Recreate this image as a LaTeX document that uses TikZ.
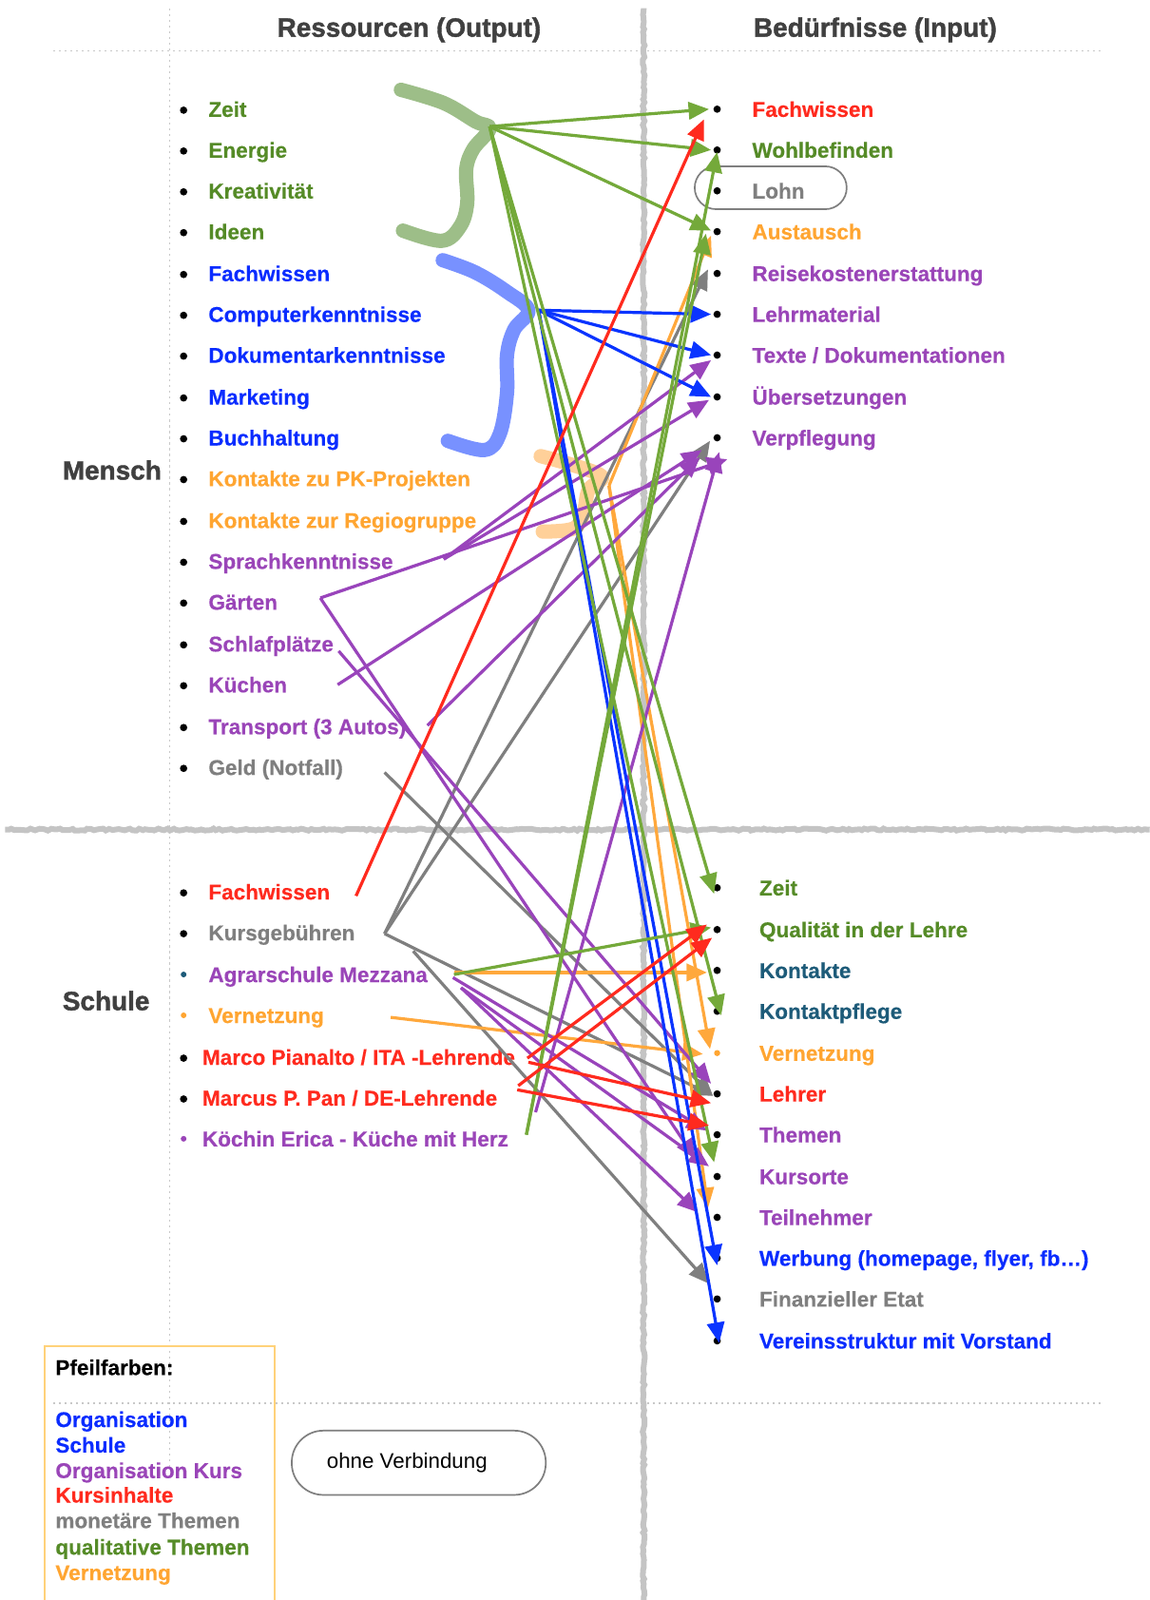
\documentclass[tikz,border=0pt]{standalone}
\usepackage{fontspec}
\setmainfont{Liberation Sans}[BoldFeatures={FakeBold=0.3}]
\newfontfamily\heavy{Liberation Sans}[BoldFeatures={FakeBold=1.4}]
\usetikzlibrary{arrows.meta,decorations.pathmorphing}
\definecolor{tgreen}{HTML}{558B27}
\definecolor{tblue}{HTML}{0A2CFF}
\definecolor{torange}{HTML}{FFA531}
\definecolor{tpurple}{HTML}{9A45B8}
\definecolor{tgray}{HTML}{7F7F7F}
\definecolor{tred}{HTML}{FF2A1E}
\definecolor{tteal}{HTML}{1D5B79}
\definecolor{hdgray}{HTML}{404040}
\definecolor{agreen}{HTML}{74A93A}
\definecolor{ablue}{HTML}{0A34FF}
\definecolor{aorange}{HTML}{FFA83C}
\definecolor{apurple}{HTML}{9944BB}
\definecolor{agray}{HTML}{7F7F7F}
\definecolor{ared}{HTML}{FF2A1E}
\definecolor{dotgray}{HTML}{C8C8C8}
\definecolor{roughgray}{HTML}{C4C4C4}
\definecolor{bgreen}{HTML}{93B77C}
\definecolor{bblue}{HTML}{6A86FF}
\definecolor{borange}{HTML}{FFCB8E}
\definecolor{legbord}{HTML}{FFD27A}
\tikzset{
  lt/.style={anchor=base west, inner sep=0pt, font=\bfseries\fontsize{10.5}{12}\selectfont},
  hd/.style={anchor=base, inner sep=0pt, font=\heavy\bfseries\fontsize{13}{15}\selectfont, text=hdgray},
  arw/.style={line width=1.5pt, -{Triangle[length=10pt,width=8.5pt]}},
  dots/.style={draw=dotgray, line width=0.6pt, dash pattern=on 1pt off 1.8pt},
  rough/.style={draw=roughgray, line width=2.8pt, decorate, decoration={random steps, segment length=1.5pt, amplitude=0.5pt}},
  brush/.style={line width=7pt, line cap=round, line join=round, opacity=0.9},
  pill/.style={draw=tgray, line width=0.8pt},
}
\begin{document}
\begin{tikzpicture}[x=0.5pt,y=-0.5pt]
\useasboundingbox (0,0) rectangle (1127,1568);
\fill[white] (0,0) rectangle (1127,1568);

% grid lines
\draw[dots] (52,50) -- (1080,50);
\draw[dots] (52,1375) -- (1080,1375);
\draw[dots] (166,8) -- (166,1440);
\draw[rough] (631,8) -- (631,1568);
\draw[rough] (5,813) -- (1127,813);

% headers
\node[hd] (hRes) at (401,36) {Ressourcen (Output)};
\node[hd] (hBed) at (858,36) {Bedürfnisse (Input)};
\node[hd, anchor=base west] (hMensch) at (61,470) {Mensch};
\node[hd, anchor=base west] (hSchule) at (61,990) {Schule};

% brush strokes
\draw[brush, bgreen] plot[smooth, tension=0.6] coordinates {(393,88) (435,101) (466,119) (480,126) (464,146) (457,166) (458,199) (451,222) (433,236) (395,226)};
\draw[brush, bblue] plot[smooth, tension=0.6] coordinates {(434,255) (466,267) (497,286) (518,304) (504,323) (497,348) (497,385) (490,425) (475,441) (439,432)};
\draw[brush, borange] plot[smooth, tension=0.6] coordinates {(530,447) (559,455) (590,467) (577,480) (572,503) (562,518) (532,521)};

% left list, Mensch
\foreach \y in {107,147,187,227,268,308,348,389,429,469,510,550,590,631,671,712,752} {\fill (180,\y+1) circle (1.8pt);}
\node[lt,text=tgreen] (mZeit) at (204,114.5) {Zeit};
\node[lt,text=tgreen] (mEnergie) at (204,154.5) {Energie};
\node[lt,text=tgreen] (mKreat) at (204,194.5) {Kreativität};
\node[lt,text=tgreen] (mIdeen) at (204,234.5) {Ideen};
\node[lt,text=tblue] (mFach) at (204,275.5) {Fachwissen};
\node[lt,text=tblue] (mComp) at (204,315.5) {Computerkenntnisse};
\node[lt,text=tblue] (mDok) at (204,355.5) {Dokumentarkenntnisse};
\node[lt,text=tblue] (mMark) at (204,396.5) {Marketing};
\node[lt,text=tblue] (mBuch) at (204,436.5) {Buchhaltung};
\node[lt,text=torange] (mPK) at (204,476.5) {Kontakte zu PK-Projekten};
\node[lt,text=torange] (mRegio) at (204,517.5) {Kontakte zur Regiogruppe};
\node[lt,text=tpurple] (mSprach) at (204,557.5) {Sprachkenntnisse};
\node[lt,text=tpurple] (mGaert) at (204,597.5) {Gärten};
\node[lt,text=tpurple] (mSchlaf) at (204,638.5) {Schlafplätze};
\node[lt,text=tpurple] (mKuech) at (204,678.5) {Küchen};
\node[lt,text=tpurple] (mTrans) at (204,719.5) {Transport (3 Autos)};
\node[lt,text=tgray] (mGeld) at (204,759.5) {Geld (Notfall)};

% left list, Schule
\foreach \y in {874,914,1036,1076} {\fill (180,\y+1) circle (1.8pt);}
\fill[tteal] (180,955) circle (1.4pt);
\fill[torange] (180,995) circle (1.4pt);
\fill[tpurple] (180,1116) circle (1.4pt);
\node[lt,text=tred] (sFach) at (204,881.5) {Fachwissen};
\node[lt,text=tgray] (sKurs) at (204,921.5) {Kursgebühren};
\node[lt,text=tpurple] (sAgrar) at (204,962.5) {Agrarschule Mezzana};
\node[lt,text=torange] (sVern) at (204,1002.5) {Vernetzung};
\node[lt,text=tred] (sMarco) at (198,1043.5) {Marco Pianalto / ITA -Lehrende};
\node[lt,text=tred] (sMarcus) at (198,1083.5) {Marcus P. Pan / DE-Lehrende};
\node[lt,text=tpurple] (sKoech) at (198,1123.5) {Köchin Erica - Küche mit Herz};

% right list, Mensch
\foreach \y in {107,147,187,227,268,308,348,389,429} {\fill (703,\y) circle (1.8pt);}
\node[lt,text=tred] (rFach) at (737,114.5) {Fachwissen};
\node[lt,text=tgreen] (rWohl) at (737,154.5) {Wohlbefinden};
\node[lt,text=tgray] (rLohn) at (737,194.5) {Lohn};
\node[lt,text=torange] (rAust) at (737,234.5) {Austausch};
\node[lt,text=tpurple] (rReise) at (737,275.5) {Reisekostenerstattung};
\node[lt,text=tpurple] (rLehrm) at (737,315.5) {Lehrmaterial};
\node[lt,text=tpurple] (rTexte) at (737,355.5) {Texte / Dokumentationen};
\node[lt,text=tpurple] (rUeber) at (737,396.5) {Übersetzungen};
\node[lt,text=tpurple] (rVerpf) at (737,436.5) {Verpflegung};
\node[pill, rounded corners=10.5pt, minimum width=74.5pt, minimum height=21pt, inner sep=0pt] (lohnbox) at (755.5,184) {};

% right list, Schule
\foreach \y in {870,911,951,991,1072,1112,1153,1193,1233,1273,1314} {\fill (703,\y) circle (1.8pt);}
\fill[torange] (703,1032) circle (1.5pt);
\node[lt,text=tgreen] (rZeit) at (744,877.5) {Zeit};
\node[lt,text=tgreen] (rQual) at (744,918.5) {Qualität in der Lehre};
\node[lt,text=tteal] (rKont) at (744,958.5) {Kontakte};
\node[lt,text=tteal] (rKpfl) at (744,998.5) {Kontaktpflege};
\node[lt,text=torange] (rVern) at (744,1039.5) {Vernetzung};
\node[lt,text=tred] (rLehrer) at (744,1079.5) {Lehrer};
\node[lt,text=tpurple] (rThemen) at (744,1119.5) {Themen};
\node[lt,text=tpurple] (rKursorte) at (744,1160.5) {Kursorte};
\node[lt,text=tpurple] (rTeiln) at (744,1200.5) {Teilnehmer};
\node[lt,text=tblue] (rWerb) at (744,1240.5) {Werbung (homepage, flyer, fb…)};
\node[lt,text=tgray] (rEtat) at (744,1280.5) {Finanzieller Etat};
\node[lt,text=tblue] (rVerein) at (744,1321.5) {Vereinsstruktur mit Vorstand};

% legend
\draw[legbord, line width=0.9pt] (44,1590) -- (44,1319) -- (269,1319) -- (269,1590);
\node[lt] (lgTitle) at (54,1347.5) {Pfeilfarben:};
\node[lt,text=tblue] (lg1) at (54,1398.5) {Organisation};
\node[lt,text=tblue] (lg2) at (54,1423.5) {Schule};
\node[lt,text=tpurple] (lg3) at (54,1448.5) {Organisation Kurs};
\node[lt,text=tred] (lg4) at (54,1472.5) {Kursinhalte};
\node[lt,text=tgray] (lg5) at (54,1497.5) {monetäre Themen};
\node[lt,text=tgreen] (lg6) at (54,1523.5) {qualitative Themen};
\node[lt,text=torange] (lg7) at (54,1548.5) {Vernetzung};
\node[pill, rounded corners=15.5pt, minimum width=124.5pt, minimum height=31.5pt, inner sep=0pt] (ovbox) at (410.5,1433.5) {};
\node[anchor=base west, inner sep=0pt, font=\fontsize{10.4}{12}\selectfont] (ovtext) at (320,1438.5) {ohne Verbindung};

% connector end points
\coordinate (hubG) at (480,124);
\coordinate (hubB) at (528,304);
\coordinate (hubO) at (597,476);
\coordinate (oSprach) at (435,548);
\coordinate (oGaert) at (314,586);
\coordinate (oSchlaf) at (332,638);
\coordinate (oKuech) at (331,671);
\coordinate (oTrans) at (419,711);
\coordinate (oGeld) at (377,757);
\coordinate (oSFach) at (349,878);
\coordinate (oKurs) at (377,915);
\coordinate (oKursB) at (405,932);
\coordinate (oAgrG) at (445,955);
\coordinate (oAgrO) at (445,953);
\coordinate (oAgrP1) at (444,958);
\coordinate (oAgrP2) at (452,968);
\coordinate (oVern) at (383,997);
\coordinate (oMarcoU) at (517,1037);
\coordinate (oMarcoD) at (518,1041);
\coordinate (oMarcusU) at (508,1064);
\coordinate (oMarcusD) at (507,1068);
\coordinate (oKoechG) at (516,1112);
\coordinate (oKoechP) at (525,1090);

\coordinate (tFach) at (690,117);
\coordinate (tFachG) at (695,107);
\coordinate (tWohl) at (697,147);
\coordinate (tWohlU) at (703,149);
\coordinate (tAust) at (697,226);
\coordinate (tAustU) at (692,229);
\coordinate (tAustO) at (697,231);
\coordinate (tReise) at (694,264);
\coordinate (tLehrm) at (697,308);
\coordinate (tTexteB) at (697,348);
\coordinate (tTexteP) at (697,353);
\coordinate (tUeberB) at (697,389);
\coordinate (tUeberP) at (695,392);
\coordinate (tVerpfY) at (696,432);
\coordinate (tVerpfK) at (688,441);
\coordinate (tVerpfT) at (686,448);
\coordinate (tVerpfG) at (713,450);
\coordinate (tVerpfR) at (705,443);
\coordinate (tZeit) at (700,876);
\coordinate (tQualG) at (697,909);
\coordinate (tQualR1) at (693,906);
\coordinate (tQualR2) at (698,919);
\coordinate (tKont) at (693,953);
\coordinate (tKpfl) at (707,995);
\coordinate (tVernV) at (696,1028);
\coordinate (tVernH) at (689,1033);
\coordinate (tLehrerP) at (697,1062);
\coordinate (tLehrerY) at (699,1074);
\coordinate (tLehrerR) at (697,1081);
\coordinate (tThemenR) at (695,1103);
\coordinate (tThemenP) at (693,1108);
\coordinate (tKursorteP1) at (682,1136);
\coordinate (tKursorteP2) at (695,1143);
\coordinate (tKursorteG) at (700,1139);
\coordinate (tTeilnP) at (684,1188);
\coordinate (tTeilnO) at (694,1184);
\coordinate (tWerb) at (703,1240);
\coordinate (tEtat) at (695,1258);
\coordinate (tVerein) at (705,1316);

% gray arrows
\draw[arw, agray] (oGeld) -- (tLehrerY);
\draw[arw, agray] (oKurs) -- (tReise);
\draw[arw, agray] (oKurs) -- (tVerpfY);
\draw[arw, agray] (oKurs) -- (tLehrerY);
\draw[arw, agray] (oKursB) -- (tEtat);

% orange arrows
\draw[arw, aorange] (oAgrO) -- (tKont);
\draw[arw, aorange] (oVern) -- (tVernH);
\draw[arw, aorange] (hubO) -- (tAustO);
\draw[arw, aorange] (hubO) -- (tVernV);
\draw[arw, aorange] (hubO) -- (tTeilnO);

% purple arrows
\draw[arw, apurple] (oSprach) -- (tTexteP);
\draw[arw, apurple] (oSprach) -- (tUeberP);
\draw[arw, apurple] (oGaert) -- (tVerpfG);
\draw[arw, apurple] (oGaert) -- (tKursorteP1);
\draw[arw, apurple] (oSchlaf) -- (tLehrerP);
\draw[arw, apurple] (oKuech) -- (tVerpfK);
\draw[arw, apurple] (oTrans) -- (tVerpfT);
\draw[arw, apurple] (oKoechP) -- (tVerpfR);
\draw[arw, apurple] (oAgrP1) -- (tThemenP);
\draw[arw, apurple] (oAgrP2) -- (tKursorteP2);
\draw[arw, apurple] (oAgrP2) -- (tTeilnP);

% blue arrows
\draw[arw, ablue] (hubB) -- (tLehrm);
\draw[arw, ablue] (hubB) -- (tTexteB);
\draw[arw, ablue] (hubB) -- (tUeberB);
\draw[arw, ablue] (hubB) -- (tWerb);
\draw[arw, ablue] (hubB) -- (tVerein);

% green arrows
\draw[arw, agreen] (hubG) -- (tFachG);
\draw[arw, agreen] (hubG) -- (tWohl);
\draw[arw, agreen] (hubG) -- (tAust);
\draw[arw, agreen] (hubG) -- (tZeit);
\draw[arw, agreen] (hubG) -- (tKpfl);
\draw[arw, agreen] (hubG) -- (tKursorteG);
\draw[arw, agreen] (oAgrG) -- (tQualG);
\draw[arw, agreen] (oKoechG) -- (tWohlU);
\draw[arw, agreen] (oKoechG) -- (tAustU);

% red arrows
\draw[arw, ared] (oSFach) -- (tFach);
\draw[arw, ared] (oMarcoU) -- (tQualR1);
\draw[arw, ared] (oMarcusU) -- (tQualR2);
\draw[arw, ared] (oMarcoD) -- (tLehrerR);
\draw[arw, ared] (oMarcusD) -- (tThemenR);
\end{tikzpicture}
\end{document}
